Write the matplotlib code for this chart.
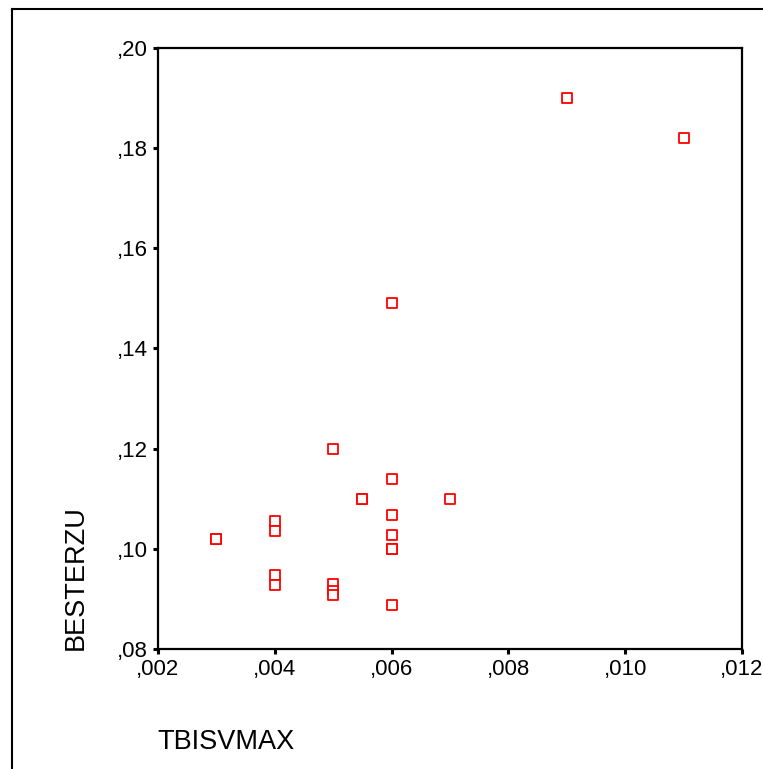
import matplotlib
matplotlib.use("Agg")
import matplotlib.pyplot as plt
from matplotlib.lines import Line2D

plt.rcParams['font.family'] = ['Liberation Sans', 'DejaVu Sans']

# Data
tbisvmax = [0.003, 0.003, 0.004, 0.004, 0.004, 0.004,
            0.005, 0.005, 0.005, 0.005,
            0.0055, 0.0055,
            0.006, 0.006, 0.006, 0.006, 0.006, 0.006, 0.006,
            0.007, 0.009, 0.011]
besterzu = [0.102, 0.102, 0.1055, 0.1035, 0.0947, 0.0928,
            0.120, 0.093, 0.0915, 0.0908,
            0.110, 0.110,
            0.149, 0.114, 0.1067, 0.1027, 0.100, 0.100, 0.0887,
            0.110, 0.190, 0.182]

x_ticks = [0.002, 0.004, 0.006, 0.008, 0.010, 0.012]
x_labels = [",002", ",004", ",006", ",008", ",010", ",012"]
y_ticks = [0.08, 0.10, 0.12, 0.14, 0.16, 0.18, 0.20]
y_labels = [",08", ",10", ",12", ",14", ",16", ",18", ",20"]

W, H = 763, 769
fig = plt.figure(figsize=(W / 100, H / 100), dpi=100)

# outer frame (left and top edges visible)
fig.add_artist(Line2D([12 / W, 12 / W], [0, 1 - 9 / H], color='black', lw=1.5))
fig.add_artist(Line2D([12 / W, 1], [1 - 9 / H, 1 - 9 / H], color='black', lw=1.5))

ax = fig.add_axes([158 / W, 1 - 649 / H, (742 - 158) / W, (649 - 48) / H])
ax.scatter(tbisvmax, besterzu, marker='s', s=42, facecolors='white',
           edgecolors='#ff0000', linewidths=1.3, zorder=3)

ax.set_xlim(0.002, 0.012)
ax.set_ylim(0.08, 0.20)
ax.set_xticks(x_ticks)
ax.set_xticklabels(x_labels)
ax.set_yticks(y_ticks)
ax.set_yticklabels(y_labels)

for s in ax.spines.values():
    s.set_linewidth(1.6)
ax.tick_params(axis='both', direction='out', length=3.5, width=2.2,
               labelsize=16, color='black')
ax.tick_params(axis='y', pad=4)
ax.tick_params(axis='x', pad=4)

fig.text(76 / W, 1 - 650 / H, "BESTERZU", rotation=90, fontsize=19.5,
         ha='center', va='bottom')
fig.text(157 / W, 1 - 742 / H, "TBISVMAX", fontsize=19.5,
         ha='left', va='center')

fig.savefig("out.png", dpi=100)
